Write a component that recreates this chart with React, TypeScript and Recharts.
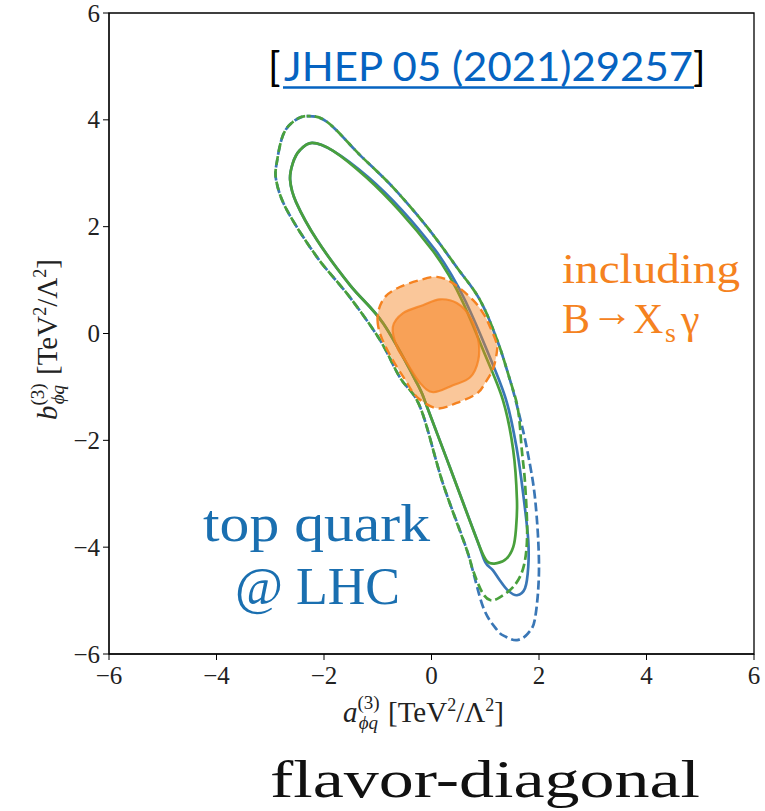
import React from 'react';
import { ScatterChart, Scatter, XAxis, YAxis, ReferenceArea, Customized } from 'recharts';

type Pair = [number, number];

// Axis ticks
const axisTicks = [-6, -4, -2, 0, 2, 4, 6];

// 1σ / 2σ contours of the top-quark fit (blue) and the alternative fit (green)
const blueSolid: Pair[] = [
  [-2.22, 3.57], [-1.83, 3.42], [-1.18, 2.93], [-0.55, 2.31], [0.07, 1.56], [0.38, 1.08],
  [0.64, 0.59], [1.03, -0.31], [1.39, -1.25], [1.59, -2.18], [1.72, -3.12], [1.8, -3.87],
  [1.8, -4.37], [1.74, -4.77], [1.59, -4.9], [1.42, -4.81], [1.27, -4.62], [1.14, -4.43],
  [1.0, -4.28], [0.85, -3.87], [0.34, -2.5], [-0.08, -1.38], [-0.27, -0.93], [-0.9, 0.19],
  [-1.52, 0.91], [-2.13, 1.75], [-2.52, 2.46], [-2.63, 2.87], [-2.58, 3.19], [-2.45, 3.43],
];

const greenSolid: Pair[] = [
  [-2.22, 3.57], [-1.83, 3.42], [-1.2, 2.91], [-0.59, 2.29], [0.03, 1.54], [0.34, 1.06],
  [0.59, 0.57], [0.96, -0.31], [1.33, -1.25], [1.52, -2.18], [1.59, -3.12], [1.57, -3.68],
  [1.52, -4.0], [1.4, -4.21], [1.22, -4.3], [1.03, -4.26], [0.85, -3.87], [0.34, -2.5],
  [-0.08, -1.38], [-0.27, -0.93], [-0.9, 0.19], [-1.52, 0.91], [-2.13, 1.75], [-2.52, 2.46],
  [-2.63, 2.87], [-2.58, 3.19], [-2.45, 3.43],
];

const blueDashed: Pair[] = [
  [-2.32, 4.07], [-1.94, 3.96], [-1.33, 3.34], [-0.72, 2.74], [-0.08, 1.99], [0.47, 1.24],
  [0.9, 0.63], [1.22, -0.12], [1.46, -0.87], [1.61, -1.43], [1.78, -2.18], [1.93, -3.12],
  [2.0, -4.37], [1.93, -5.31], [1.8, -5.61], [1.59, -5.74], [1.37, -5.67], [1.22, -5.55],
  [0.96, -5.12], [0.66, -4.06], [0.21, -2.8], [-0.21, -1.38], [-0.59, -0.82], [-0.96, -0.12],
  [-1.52, 0.68], [-2.13, 1.43], [-2.69, 2.31], [-2.89, 2.87], [-2.87, 3.25], [-2.76, 3.72],
  [-2.58, 3.96],
];

const greenDashed: Pair[] = [
  [-2.32, 4.07], [-1.94, 3.96], [-1.33, 3.34], [-0.72, 2.74], [-0.08, 1.99], [0.47, 1.24],
  [0.9, 0.63], [1.22, -0.12], [1.46, -0.87], [1.61, -1.43], [1.68, -2.18], [1.74, -2.8],
  [1.78, -3.74], [1.72, -4.34], [1.55, -4.71], [1.27, -4.94], [1.09, -4.99], [0.94, -4.84],
  [0.77, -4.43], [0.66, -4.06], [0.21, -2.8], [-0.21, -1.38], [-0.59, -0.82], [-0.96, -0.12],
  [-1.52, 0.68], [-2.13, 1.43], [-2.69, 2.31], [-2.89, 2.87], [-2.87, 3.25], [-2.76, 3.72],
  [-2.58, 3.96],
];

// Regions including B -> Xs gamma
const orangeOuter: Pair[] = [
  [-1.0, 0.19], [-0.98, 0.45], [-0.85, 0.7], [-0.59, 0.87], [-0.25, 0.99], [0.1, 1.06],
  [0.4, 0.94], [0.77, 0.63], [0.98, 0.35], [1.09, 0.12], [1.2, -0.15], [1.22, -0.31],
  [1.15, -0.65], [1.0, -0.92], [0.85, -1.12], [0.47, -1.3], [0.1, -1.4], [-0.27, -1.19],
  [-0.5, -0.85], [-0.72, -0.5], [-0.92, -0.1],
];

const orangeInner: Pair[] = [
  [-0.72, 0.12], [-0.53, 0.38], [-0.16, 0.53], [0.16, 0.64], [0.47, 0.57], [0.72, 0.31],
  [0.87, -0.12], [0.87, -0.5], [0.72, -0.82], [0.4, -0.97], [0.03, -1.1], [-0.21, -0.93],
  [-0.46, -0.55], [-0.64, -0.26],
];

const toPoints = (pairs: Pair[]) => pairs.map(([x, y]) => ({ x, y }));

const BLUE = '#3a77b6';
const GREEN = '#49a03c';
const ORANGE = '#f58220';
const SERIF = '"Liberation Serif", "DejaVu Serif", serif';

const fmt = (v: number) => (v < 0 ? `\u2212${Math.abs(v)}` : `${v}`);

// Closed Catmull-Rom curve through every contour point
const smoothClosed = (context: any) => {
  let pts: Array<[number, number]> = [];
  return {
    areaStart() {},
    areaEnd() {},
    lineStart() {
      pts = [];
    },
    point(x: number, y: number) {
      pts.push([+x, +y]);
    },
    lineEnd() {
      const n = pts.length;
      if (!n) return;
      context.moveTo(pts[0][0], pts[0][1]);
      const t = 1 / 6;
      for (let i = 0; i < n; i++) {
        const p0 = pts[(i - 1 + n) % n];
        const p1 = pts[i];
        const p2 = pts[(i + 1) % n];
        const p3 = pts[(i + 2) % n];
        context.bezierCurveTo(
          p1[0] + (p2[0] - p0[0]) * t,
          p1[1] + (p2[1] - p0[1]) * t,
          p2[0] - (p3[0] - p1[0]) * t,
          p2[1] - (p3[1] - p1[1]) * t,
          p2[0],
          p2[1],
        );
      }
      context.closePath();
    },
  };
};

const Hidden = () => <g />;

const XTick = (props: any) => (
  <text x={props.x} y={props.y + 24} textAnchor="middle" fontFamily={SERIF} fontSize={25} fill="#222">
    {fmt(props.payload.value)}
  </text>
);

const YTick = (props: any) => (
  <text x={props.x + 1} y={props.y + 8.5} textAnchor="end" fontFamily={SERIF} fontSize={25} fill="#222">
    {fmt(props.payload.value)}
  </text>
);

function AxisTitle({ letter }: { letter: string }) {
  return (
    <>
      <tspan fontStyle="italic">{letter}</tspan>
      <tspan fontSize={19} dy={-13}>(3)</tspan>
      <tspan fontSize={19} fontStyle="italic" dx={-21} dy={20}>ϕq</tspan>
      <tspan dx={10} dy={-7}>[TeV</tspan>
      <tspan fontSize={18} dy={-11}>2</tspan>
      <tspan dy={11}>/Λ</tspan>
      <tspan fontSize={18} dy={-11}>2</tspan>
      <tspan dy={11}>]</tspan>
    </>
  );
}

function Annotations() {
  return (
    <g>
      {/* reference */}
      <g fontFamily='Lato, "Noto Sans", sans-serif' fontSize={41}>
        <text x={268} y={81} fill="#000">[</text>
        <text x={284} y={81} fill="#0563c1" textLength={409} lengthAdjust="spacingAndGlyphs">
          JHEP 05 (2021)29257
        </text>
        <line x1={283} x2={694} y1={87.5} y2={87.5} stroke="#0563c1" strokeWidth={2.5} />
        <text x={693} y={81} fill="#000">]</text>
      </g>

      {/* region labels */}
      <g fontFamily={SERIF} fill={ORANGE} fontSize={42}>
        <text x={562} y={283} textLength={178} lengthAdjust="spacingAndGlyphs">including</text>
        <text x={562} y={333}>B</text>
        <text x={591} y={326} fontSize={40} textLength={42} lengthAdjust="spacingAndGlyphs">→</text>
        <text x={633} y={333}>X</text>
        <text x={665} y={342} fontSize={28}>s</text>
        <text x={681} y={333}>γ</text>
      </g>
      <g fontFamily={SERIF} fill="#1a6fb0" fontSize={52}>
        <text x={203} y={541} textLength={227} lengthAdjust="spacingAndGlyphs">top quark</text>
        <text x={235} y={604} textLength={165} lengthAdjust="spacingAndGlyphs">@ LHC</text>
      </g>
      <text x={270} y={797} fontFamily={SERIF} fontSize={52} fill="#111" textLength={430} lengthAdjust="spacingAndGlyphs">
        flavor-diagonal
      </text>

      {/* axis titles */}
      <text x={343} y={722} fontFamily={SERIF} fontSize={29} fill="#222">
        <AxisTitle letter="a" />
      </text>
      <text transform="translate(57, 420) rotate(-90)" fontFamily={SERIF} fontSize={29} fill="#222">
        <AxisTitle letter="b" />
      </text>
    </g>
  );
}

const contourStyle = (color: string, dashed: boolean, offset = 0) => ({
  stroke: color,
  strokeWidth: 2.7,
  fill: 'none',
  ...(dashed ? { strokeDasharray: '9 4', strokeDashoffset: offset } : {}),
});

export default function App() {
  return (
    <div style={{ position: 'absolute', left: 0, top: 0, width: 765, height: 811, background: '#fff' }}>
      <ScatterChart width={765} height={811} margin={{ top: 13, right: 11, bottom: 0, left: 0 }}>
        <XAxis
          dataKey="x"
          type="number"
          domain={[-6, 6]}
          ticks={axisTicks}
          allowDataOverflow
          height={157}
          tickSize={6}
          tickMargin={0}
          stroke="#000"
          tick={XTick}
        />
        <YAxis
          dataKey="y"
          type="number"
          domain={[-6, 6]}
          ticks={axisTicks}
          allowDataOverflow
          width={109}
          tickSize={6}
          tickMargin={4}
          stroke="#000"
          tick={YTick}
        />
        <ReferenceArea x1={-6} x2={6} y1={-6} y2={6} fill="none" stroke="#000" strokeWidth={1.3} />

        <Scatter data={toPoints(blueSolid)} shape={Hidden} line={contourStyle(BLUE, false)}
          lineJointType={smoothClosed as any} isAnimationActive={false} />
        <Scatter data={toPoints(blueDashed)} shape={Hidden} line={contourStyle(BLUE, true)}
          lineJointType={smoothClosed as any} isAnimationActive={false} />
        <Scatter data={toPoints(greenSolid)} shape={Hidden} line={contourStyle(GREEN, false)}
          lineJointType={smoothClosed as any} isAnimationActive={false} />
        <Scatter data={toPoints(greenDashed)} shape={Hidden} line={contourStyle(GREEN, true, 5)}
          lineJointType={smoothClosed as any} isAnimationActive={false} />
        <Scatter
          data={toPoints(orangeOuter)}
          shape={Hidden}
          line={{ stroke: ORANGE, strokeWidth: 2.4, fill: ORANGE, fillOpacity: 0.45, strokeDasharray: '9 5' }}
          lineJointType={smoothClosed as any}
          isAnimationActive={false}
        />
        <Scatter
          data={toPoints(orangeInner)}
          shape={Hidden}
          line={{ stroke: ORANGE, strokeWidth: 2.2, fill: ORANGE, fillOpacity: 0.55, strokeOpacity: 0.8 }}
          lineJointType={smoothClosed as any}
          isAnimationActive={false}
        />
        <Customized component={<Annotations />} />
      </ScatterChart>
    </div>
  );
}
